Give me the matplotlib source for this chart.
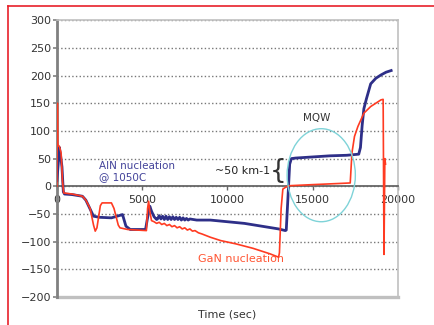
import matplotlib
matplotlib.use("Agg")
import matplotlib.pyplot as plt
from matplotlib.patches import Ellipse
from matplotlib.lines import Line2D

# reflectance-like traces (time in s)
aln_t = [0, 80, 150, 220, 300, 380, 450, 900, 1500, 1700, 2150, 2500, 3200, 3750,
         3850, 4050, 4300, 5200, 5300, 5450, 5550, 5700, 5850,
         5900, 6000, 6100, 6200, 6300, 6400, 6500, 6600, 6700, 6800, 6900, 7000,
         7100, 7200, 7300, 7400, 7500, 7600, 7700, 7800, 8200,
         9000, 10000, 11000, 12000, 13000, 13400, 13450, 13550, 13650, 13750,
         14000, 15000, 16000, 17000, 17700, 17800, 17900, 18000, 18150, 18400,
         18700, 19000, 19300, 19600]
aln_v = [10, 40, 70, 55, 35, -10, -14, -15, -18, -25, -54, -56, -57, -52,
         -51, -72, -78, -78, -60, -36, -45, -55, -60,
         -59, -53, -59, -54, -60, -54, -60, -55, -60, -55, -60, -56,
         -60, -56, -61, -57, -61, -58, -61, -59, -61,
         -61, -64, -67, -72, -77, -80, -79, -20, 40, 50,
         51, 53, 55, 56, 58, 70, 110, 140, 158, 185,
         195, 201, 206, 209]

gan_t = [0, 30, 60, 150, 250, 330, 400, 900, 1500, 1700, 1950, 2150, 2250, 2350,
         2550, 2650, 3200, 3350, 3600, 3700, 4150, 5250, 5320, 5380, 5450, 5550,
         5700, 5850, 6000, 6150, 6300, 6450, 6600, 6750, 6900, 7050, 7200, 7350,
         7500, 7650, 7800, 7950, 8100, 8300, 8500, 9000, 9600, 10500, 11500,
         12500, 13000, 13050, 13150, 13250, 13400, 13600, 15000, 16500, 17200,
         17300, 17450, 17650, 18000, 18400, 19000, 19130, 19180, 19230, 19270]
gan_v = [0, 150, 75, 72, 60, 10, -12, -14, -18, -25, -40, -70, -81, -75,
         -35, -30, -30, -40, -70, -75, -78, -80, -40, -27, -45, -62,
         -64, -67, -65, -69, -67, -71, -69, -73, -71, -75, -73, -77,
         -75, -79, -77, -81, -80, -84, -86, -92, -98, -104, -112,
         -122, -128, -120, -40, -5, -2, 1, 3, 5, 6,
         60, 90, 108, 132, 144, 156, 157, -123, 50, 40]

y_ticks = [-200, -150, -100, -50, 0, 50, 100, 150, 200, 250, 300]
x_ticks = [0, 5000, 10000, 15000, 20000]

fig = plt.figure(figsize=(4.34, 3.25), dpi=100)
ax = fig.add_axes([0.131, 0.086, 0.786, 0.852])
ax.set_axisbelow(True)

ax.plot(aln_t, aln_v, color='#2e2f88', lw=2.0, zorder=3)
ax.plot(gan_t, gan_v, color='#ff3b22', lw=1.2, zorder=4)

ax.set_xlim(0, 20000)
ax.set_ylim(-200, 300)
ax.set_yticks(y_ticks)
ax.set_xticks(x_ticks)
ax.tick_params(labelsize=8, labelcolor='#333333')
ax.tick_params(axis='y', length=3, width=1.2, color='#808080', pad=1)
ax.tick_params(axis='x', direction='out', length=3, width=1, color='#666666', pad=3)

ax.grid(axis='y', linestyle=':', color='#777777', lw=1)

for s in ['top', 'right']:
    ax.spines[s].set_color('#c0c0c0')
    ax.spines[s].set_linewidth(1.2)
ax.spines['left'].set_color('#808080')
ax.spines['left'].set_linewidth(2)
ax.spines['bottom'].set_position(('data', 0))
ax.spines['bottom'].set_color('#666666')
ax.spines['bottom'].set_linewidth(1.3)
ax.axhline(-200, color='#c0c0c0', lw=2.4, clip_on=False, zorder=2)

ax.add_patch(Ellipse((15500, 20), 4000, 168, fill=False, ec='#7fd3d8', lw=1.0, zorder=5))

ax.text(2500, 27, 'AlN nucleation\n@ 1050C', color='#43439a', fontsize=7.5,
        va='center', ha='left', linespacing=1.1)
ax.text(12500, 27, '~50 km-1', color='#222222', fontsize=8, va='center', ha='right')
ax.text(12980, 27, '{', color='#333333', fontsize=19, va='center', ha='center')
ax.text(15250, 124, 'MQW', color='#333333', fontsize=7.5, va='center', ha='center')
ax.text(8250, -131, 'GaN nucleation', color='#ff5533', fontsize=8, va='center', ha='left')

ax.set_xlabel('Time (sec)', fontsize=8, color='#333333')
ax.xaxis.set_label_coords(0.5, -0.045)

fig.add_artist(Line2D([8 / 434, 8 / 434], [0, 1 - 6 / 325], color='#e8202a', lw=1.2))
fig.add_artist(Line2D([8 / 434, 1], [1 - 6 / 325, 1 - 6 / 325], color='#e8202a', lw=1.2))

fig.savefig('out.png', dpi=100)
